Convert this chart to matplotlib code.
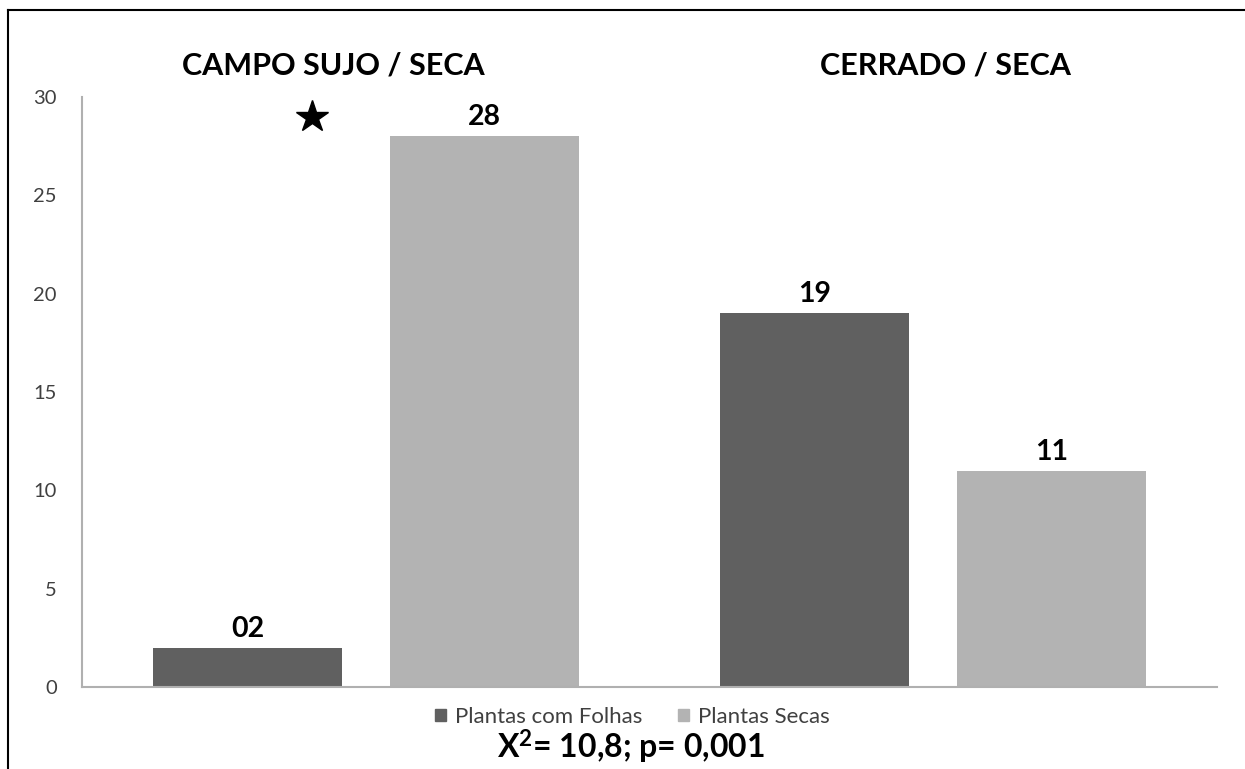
import matplotlib
matplotlib.use("Agg")
import matplotlib.pyplot as plt
import numpy as np
from matplotlib.lines import Line2D
from matplotlib.patches import Patch

# dados
grupos = ["CAMPO SUJO / SECA", "CERRADO / SECA"]
folhas = [2, 19]
secas = [28, 11]
rotulos_folhas = ["02", "19"]
rotulos_secas = ["28", "11"]
yticks = [0, 5, 10, 15, 20, 25, 30]

cor_folhas = "#606060"
cor_secas = "#b3b3b3"

plt.rcParams['font.family'] = ['Lato', 'DejaVu Sans']
plt.rcParams['mathtext.fontset'] = 'custom'
plt.rcParams['mathtext.bf'] = 'Lato:bold'
plt.rcParams['mathtext.rm'] = 'Lato'

fig = plt.figure(figsize=(12.45, 7.69), dpi=100)
ax = fig.add_axes([82/1245, 1-687/769, (1217-82)/1245, (687-97)/769])

x = np.arange(len(grupos))
w = 0.333
off = 0.2085
b1 = ax.bar(x - off, folhas, w, color=cor_folhas)
b2 = ax.bar(x + off, secas, w, color=cor_secas)

for bars, labs in [(b1, rotulos_folhas), (b2, rotulos_secas)]:
    for rect, lab in zip(bars, labs):
        ax.text(rect.get_x() + rect.get_width()/2, rect.get_height() + 0.3, lab,
                ha="center", va="bottom", fontsize=20.5, fontweight="bold", color="black")

ax.set_xlim(-0.5, 1.5)
ax.set_ylim(0, 30)
ax.set_yticks(yticks)
ax.set_xticks([])
ax.tick_params(axis="y", length=0, pad=18, labelsize=14.5, labelcolor="#404040")
for s in ["top", "right"]:
    ax.spines[s].set_visible(False)
for s in ["left", "bottom"]:
    ax.spines[s].set_color("#b0b0b0")
    ax.spines[s].set_linewidth(1.5)

# estrela de significancia
ax.plot([-0.095], [29.0], marker="*", markersize=24, color="black")

# titulos dos grupos
fig.text(333/1245, 1-65/769, grupos[0], ha="center", va="center", fontsize=22, fontweight="bold")
fig.text(945/1245, 1-65/769, grupos[1], ha="center", va="center", fontsize=22, fontweight="bold")

# legenda
handles = [Patch(color=cor_folhas, label="Plantas com Folhas"),
           Patch(color=cor_secas, label="Plantas Secas")]
fig.legend(handles=handles, loc="center", bbox_to_anchor=(632/1245, 1-717/769), ncol=2,
           frameon=False, fontsize=16, handlelength=0.5, handleheight=0.5,
           handletextpad=0.4, columnspacing=1.6, labelcolor="#404040",
           borderpad=0.1)

fig.text(631/1245, 1-759/769, r"$\mathbf{X^{2}}$= 10,8; p= 0,001", ha="center", va="baseline",
         fontsize=23, fontweight="bold")

# moldura
fig.add_artist(Line2D([8/1245, 8/1245], [0, 1-10/769], color="black", lw=1.5))
fig.add_artist(Line2D([8/1245, 1], [1-10/769, 1-10/769], color="black", lw=1.5))

fig.savefig("out.png", dpi=100)
